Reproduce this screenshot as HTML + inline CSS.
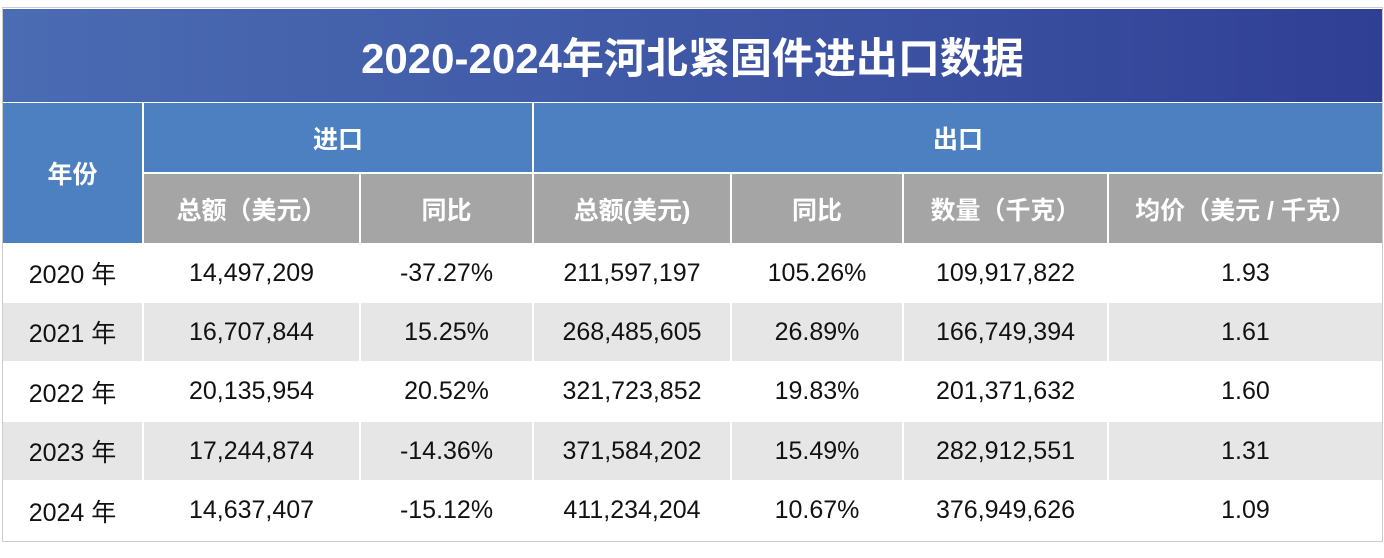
<!DOCTYPE html><html><head><meta charset="utf-8"><style>
body{margin:0;width:1384px;height:558px;background:#fff;position:relative;overflow:hidden;font-family:"Liberation Sans","Noto Sans CJK SC",sans-serif}
.c{position:absolute;display:flex;align-items:center;justify-content:center;box-sizing:border-box}
.t{left:3px;top:9px;width:1379px;height:93px;background:linear-gradient(90deg,#4a6cb3,#3a4fa0 70%,#2f3f94);color:#fff;font-size:42px;font-weight:bold}
.h1{background:#4c80c0;color:#fff;font-size:25px;font-weight:bold}
.h2{background:#a5a5a5;color:#fff;font-size:25px;font-weight:bold}
.d{font-size:25px;color:#111}
.g{background:#e6e6e6}
</style></head><body>
<div style="position:absolute;left:2px;top:7px;width:1381px;height:535px;border:1px solid #ccc;box-sizing:border-box"></div>
<div class="c t">2020-2024年河北紧固件进出口数据</div>
<div class="c h1" style="left:3px;top:103px;width:139px;height:140px">年份</div>
<div class="c h1" style="left:144px;top:103px;width:388px;height:69px">进口</div>
<div class="c h1" style="left:534px;top:103px;width:848px;height:69px">出口</div>
<div class="c h2" style="left:144px;top:174px;width:215px;height:69px">总额（美元）</div>
<div class="c h2" style="left:361px;top:174px;width:171px;height:69px">同比</div>
<div class="c h2" style="left:534px;top:174px;width:196px;height:69px">总额(美元)</div>
<div class="c h2" style="left:732px;top:174px;width:170px;height:69px">同比</div>
<div class="c h2" style="left:904px;top:174px;width:203px;height:69px">数量（千克）</div>
<div class="c h2" style="left:1109px;top:174px;width:273px;height:69px">均价（美元 / 千克）</div>
<div id="rows"></div>
<script>
var d=[["2020 年","14,497,209","-37.27%","211,597,197","105.26%","109,917,822","1.93"],
["2021 年","16,707,844","15.25%","268,485,605","26.89%","166,749,394","1.61"],
["2022 年","20,135,954","20.52%","321,723,852","19.83%","201,371,632","1.60"],
["2023 年","17,244,874","-14.36%","371,584,202","15.49%","282,912,551","1.31"],
["2024 年","14,637,407","-15.12%","411,234,204","10.67%","376,949,626","1.09"]];
var x=[3,144,361,534,732,904,1109,1382],h="";
d.forEach(function(r,i){var y=243+i*59.4;r.forEach(function(v,j){var w=x[j+1]-x[j]-(j<6?2:0);
h+='<div class="c d'+(i%2?' g':'')+'" style="left:'+x[j]+'px;top:'+(y+1)+'px;width:'+w+'px;height:58px">'+v+'</div>';});});
document.getElementById('rows').innerHTML=h;
</script>
</body></html>
